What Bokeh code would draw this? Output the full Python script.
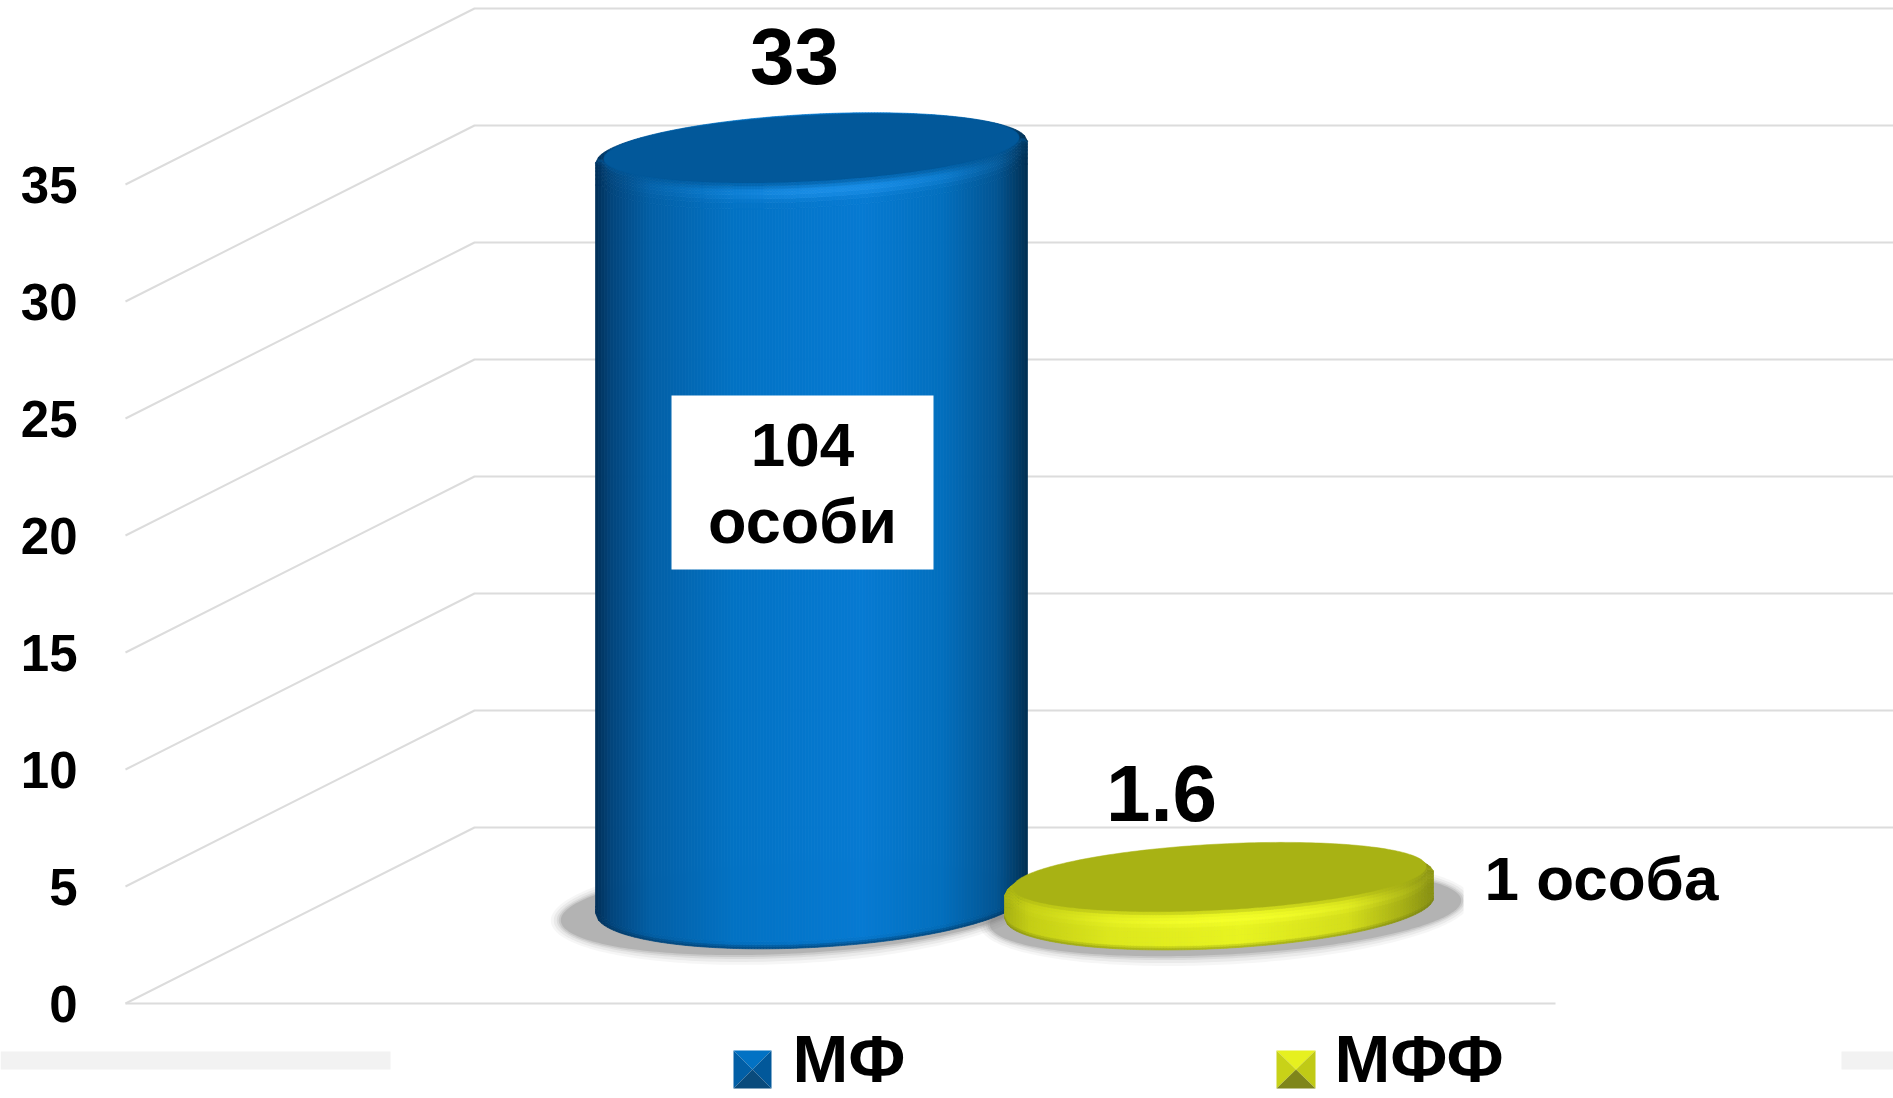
import numpy as np
from bokeh.plotting import figure
from bokeh.models import Range1d, FixedTicker
from bokeh.core.properties import value
from bokeh.embed import file_html
from bokeh.resources import INLINE

# ---- data ----
categories = ["МФ", "МФФ"]
values = [33, 1.6]
value_labels = ["33", "1.6"]
tick_values = [0, 5, 10, 15, 20, 25, 30, 35]
note_lines = ["104", "особи"]
note_right = "1 особа"

# ---- layout (reference pixels) ----
W, H = 1893, 1098
FONT = value("Liberation Sans")
PX = 23.4                     # pixels per value unit
Y0 = 1003                     # pixel row of value 0 on the front plane
def V(py):                    # pixel row -> value scale
    return (Y0 - py) / PX

p = figure(width=W, height=H, output_backend="svg", toolbar_location=None,
           x_range=Range1d(0, 1893), y_range=Range1d(V(1098), V(0)),
           min_border=0, min_border_left=0, min_border_right=0,
           min_border_top=0, min_border_bottom=0)
p.outline_line_color = None
p.xaxis.visible = False
p.xgrid.visible = False
p.ygrid.visible = False
ax = p.yaxis[0]
ax.fixed_location = 94
ax.ticker = FixedTicker(ticks=tick_values)
ax.axis_line_color = None
ax.major_tick_line_color = None
ax.minor_tick_line_color = None
ax.major_label_standoff = 11
ax.major_label_text_font = "Liberation Sans"
ax.major_label_text_font_style = "bold"
ax.major_label_text_font_size = "51px"
ax.major_label_text_color = "#000000"

# wall / floor lines
GRID = "#dcdcdc"
DEPTH = 176 / PX
for t in tick_values:
    p.line([125, 474, 1893], [t, t + DEPTH, t + DEPTH], line_color=GRID, line_width=2)
p.line([125, 1555], [0, 0], line_color=GRID, line_width=2)

# bands either side of the legend
for x0, x1 in [(0, 390), (1841, 1893)]:
    p.quad(left=[x0], right=[x1], bottom=[V(1069)], top=[V(1051)], fill_color="#f2f2f2", line_color=None)

def hex2rgb(h):
    return np.array([int(h[i:i + 2], 16) for i in (1, 3, 5)], float)
def rgb2hex(c):
    c = np.clip(np.round(c), 0, 255).astype(int)
    return "#%02x%02x%02x" % tuple(c)
def ramp(stops, f):
    xs = [s[0] for s in stops]
    cs = np.array([hex2rgb(s[1]) for s in stops])
    return np.array([np.interp(f, xs, cs[:, i]) for i in range(3)])

TILT = np.radians(3.0)
def ell(cx, cy, a, b, n=240):
    th = np.linspace(0, 2 * np.pi, n)
    x = a * np.cos(th) * np.cos(TILT) - b * np.sin(th) * np.sin(TILT)
    y = a * np.cos(th) * np.sin(TILT) + b * np.sin(th) * np.cos(TILT)
    return cx + x, cy - y      # pixel rows grow downward

def arcs(cx, cy, a, b, xs):
    ex, ey = ell(cx, cy, a, b, 720)
    i1 = np.argmax(ex)
    ex2 = np.roll(ex[:-1], -i1); ey2 = np.roll(ey[:-1], -i1)
    k = np.argmin(ex2)
    ux, uy = ex2[:k + 1][::-1], ey2[:k + 1][::-1]   # upper arc
    lx, ly = ex2[k:], ey2[k:]                        # lower arc
    return np.interp(xs, lx, ly), np.interp(xs, ux, uy)

def shadow(cx, cy, a, b, xmax=None):
    for g, al in [(10, .07), (7, .10), (4, .14), (2, .2), (0, .3)]:
        x, y = ell(cx, cy, a + g, b + g)
        if xmax is not None:
            x = np.minimum(x, xmax)
        p.patch(x, V(y), fill_color="#808080", fill_alpha=al, line_color=None)

def cylinder(cx, base_py, base_b, val, top_adj, a, top_b, face_dy, face_da, face_b,
             face_col, side_stops, shade):
    top_py = base_py - val * PX + top_adj
    xs = np.arange(cx - a, cx + a + 0.01, 3.0)
    bot_low, _ = arcs(cx, base_py, a, base_b, xs)
    _, top_up = arcs(cx, top_py, a, top_b, xs)
    face_low, _ = arcs(cx, top_py + face_dy, a - face_da, face_b, xs)
    polyx, polyy, cols = [], [], []
    offs_b = [0, 2, 4, 7]
    offs_f = [26, 20, 16, 12, 9, 6, 3, 0]
    for i in range(len(xs) - 1):
        fr = (xs[i] + 1.5 - (cx - a)) / (2 * a)
        base = ramp(side_stops, fr)
        yb0, yf0, yt0 = bot_low[i], face_low[i], top_up[i]
        yb1, yf1, yt1 = bot_low[i + 1], face_low[i + 1], top_up[i + 1]
        e0 = [yb0 - o for o in offs_b] + [yf0 + o for o in offs_f] + [yt0]
        e1 = [yb1 - o for o in offs_b] + [yf1 + o for o in offs_f] + [yt1]
        e0 = np.minimum.accumulate(np.clip(e0, yt0, yb0))
        e1 = np.minimum.accumulate(np.clip(e1, yt1, yb1))
        for k in range(len(e0) - 1):
            if e0[k] - e0[k + 1] < 0.01 and e1[k] - e1[k + 1] < 0.01:
                continue
            m0 = (e0[k] + e0[k + 1]) / 2
            d = m0 - yf0
            db = yb0 - m0
            polyx.append([xs[i], xs[i + 1], xs[i + 1], xs[i]])
            polyy.append(list(V(np.array([e0[k], e1[k], e1[k + 1], e0[k + 1]]))))
            cols.append(rgb2hex(shade(base, fr, d, db)))
    p.patches(polyx, polyy, fill_color=cols, line_color=cols, line_width=0.7)
    x, y = ell(cx, top_py + face_dy, a - face_da, face_b)
    p.patch(x, V(y), fill_color=face_col, line_color=face_col, line_width=0.5)

def shade_blue(base, fr, d, db):
    c = base.copy()
    if d >= 0:                         # below the face edge: lit rim
        bell = np.exp(-((fr - 0.55) / 0.28) ** 2)
        hi = np.exp(-((d - 10) / 7.0) ** 2)
        c = c + (hex2rgb("#1b8fe8") - c) * hi * bell * 0.9
        if d < 6:
            c = c + (hex2rgb("#02589a") - c) * (1 - d / 6) * 0.7
    if db < 6:
        c = c + (hex2rgb("#013560") - c) * (1 - db / 6) * 0.7
    return c

def shade_yellow(base, fr, d, db):
    c = base.copy()
    if d >= 0:
        bell = np.exp(-((fr - 0.52) / 0.3) ** 2)
        hi = np.exp(-((d - 10) / 5.0) ** 2)
        c = c + (hex2rgb("#f4ff28") - c) * hi * bell
        if d < 4:
            c = c + (hex2rgb("#a8b214") - c) * (1 - d / 4) * 0.6
    if db < 5:
        c = c + (hex2rgb("#6f7a10") - c) * (1 - db / 5) * 0.6
    return c

BLUE_SIDE = [(0, "#012f58"), (.04, "#02467e"), (.13, "#025fa6"), (.32, "#0272c4"),
             (.62, "#067ad2"), (.80, "#026fbe"), (.93, "#025492"), (1, "#012f52")]
YEL_SIDE = [(0, "#a7b012"), (.06, "#c4ce14"), (.25, "#dde81c"), (.55, "#e8f420"),
            (.8, "#d4de1a"), (.93, "#a5ae14"), (1, "#858e12")]

centers = [811, 1219]
shadow(centers[0] - 18, 908, 233, 45)
shadow(centers[1] + 6, 912, 236, 42, xmax=1463)
cylinder(centers[0], 902, 45, values[0], 22, 216, 38, -4, 8, 33, "#02589a", BLUE_SIDE, shade_blue)
cylinder(centers[1], 907, 41, values[1], 15, 215, 40, -8, 8, 33, "#a8b214", YEL_SIDE, shade_yellow)

def txt(x, py, s, size, align="center"):
    p.text([x], [V(py)], text=[s], text_font=FONT, text_font_style="bold",
           text_font_size=size, text_align=align, text_baseline="middle", text_color="#000000")

# value labels
txt(794, 56, value_labels[0], "80px")
txt(1161, 793, value_labels[1], "80px")
# note box
p.quad(left=[671], right=[933], bottom=[V(569)], top=[V(395)], fill_color="#ffffff", line_color=None)
txt(802, 444, note_lines[0], "62px")
txt(802, 520, note_lines[1], "63px")
txt(1484, 878, note_right, "62px", "left")

# legend
def swatch(x0, x1, y0, y1, top, side_l, side_r, bot):
    xm, ym = (x0 + x1) / 2, (y0 + y1) / 2
    p.patch([x0, x1, xm], V(np.array([y0, y0, ym])), fill_color=top, line_color=None)
    p.patch([x0, xm, x0], V(np.array([y0, ym, y1])), fill_color=side_l, line_color=None)
    p.patch([x1, xm, x1], V(np.array([y0, ym, y1])), fill_color=side_r, line_color=None)
    p.patch([x0, x1, xm], V(np.array([y1, y1, ym])), fill_color=bot, line_color=None)

swatch(733, 771, 1050, 1088, "#0272c4", "#025fa6", "#02589a", "#0a4b7c")
swatch(1276, 1315, 1050, 1088, "#e6f020", "#c8d218", "#c0ca16", "#7f861a")
txt(792, 1058, categories[0], "67px", "left")
txt(1334, 1058, categories[1], "67px", "left")

open("out.html", "w").write(file_html(p, INLINE))
